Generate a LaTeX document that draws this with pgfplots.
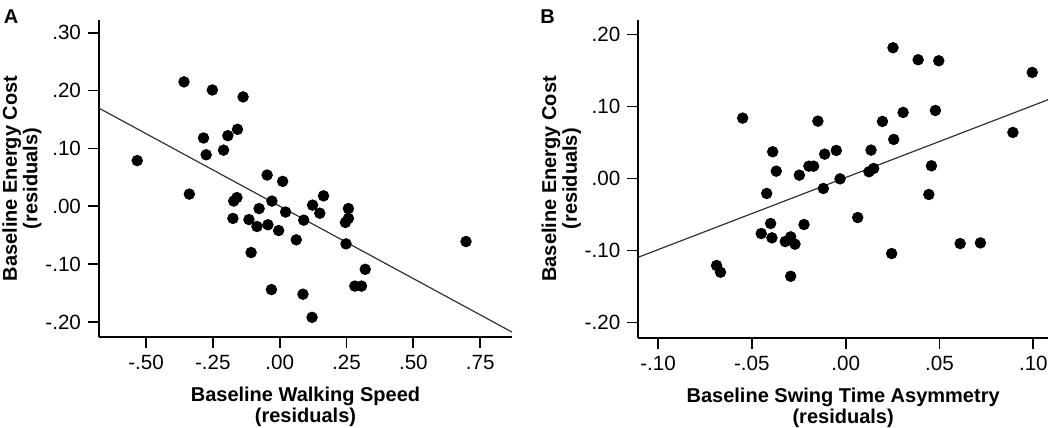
\documentclass[border=0pt]{standalone}
\usepackage{fontspec}
\setmainfont{Liberation Sans}
\usepackage{pgfplots}
\usepackage{pgfplotstable}
\pgfplotsset{compat=1.18}
\pgfplotstableread{
x y
-0.358 0.215
-0.252 0.201
-0.137 0.189
-0.158 0.133
-0.194 0.122
-0.285 0.118
-0.210 0.097
-0.275 0.089
-0.533 0.079
-0.047 0.054
0.011 0.043
-0.338 0.021
0.164 0.018
-0.160 0.015
-0.172 0.009
-0.029 0.009
0.123 0.002
0.150 -0.012
-0.077 -0.004
0.257 -0.004
0.022 -0.010
-0.175 -0.021
-0.115 -0.023
0.090 -0.024
0.257 -0.021
0.246 -0.028
-0.085 -0.035
-0.044 -0.032
-0.004 -0.042
0.062 -0.058
0.248 -0.065
-0.107 -0.080
0.697 -0.061
0.320 -0.109
0.281 -0.138
0.306 -0.138
-0.031 -0.144
0.087 -0.152
0.121 -0.192
}\dataA
\pgfplotstableread{
x y
0.0252 0.1815
0.0386 0.1648
0.0496 0.1634
0.0994 0.1472
-0.0549 0.0838
-0.0148 0.0796
0.0196 0.0792
0.0306 0.0917
0.0478 0.0944
0.0256 0.0542
0.0891 0.0639
-0.0389 0.0371
-0.0112 0.0338
-0.0050 0.0389
0.0135 0.0394
-0.0370 0.0102
-0.0247 0.0046
-0.0196 0.0171
-0.0171 0.0171
-0.0030 -0.0005
0.0124 0.0093
0.0149 0.0139
0.0457 0.0176
0.0443 -0.0222
-0.0421 -0.0208
-0.0119 -0.0139
0.0064 -0.0542
-0.0400 -0.0625
-0.0222 -0.0639
-0.0450 -0.0764
-0.0393 -0.0824
-0.0322 -0.0875
-0.0293 -0.0810
-0.0270 -0.0912
0.0610 -0.0903
0.0718 -0.0894
0.0245 -0.1042
-0.0688 -0.1208
-0.0667 -0.1301
-0.0293 -0.1357
}\dataB
\begin{document}
\begin{tikzpicture}
\useasboundingbox (0pt,0pt) rectangle (525pt,214pt);
\pgfplotsset{
 myax/.style={
  scale only axis,
  axis lines*=left,
  axis line style={line width=1pt,black},
  tick align=outside,
  major tick length=5.5pt,
  tick style={line width=0.9pt,black},
  ticklabel style={font=\fontsize{10.3}{11}\selectfont},
  label style={font=\bfseries\fontsize{10}{10.3}\selectfont, align=center},
  xlabel style={at={(rel axis cs:0.5,0)}, anchor=center, yshift=-35pt},
  ylabel style={at={(rel axis cs:0,0.5)}, anchor=center, rotate=0, yshift=38.5pt},
  clip=false,
 },
 dots/.style={only marks, mark=*, mark size=2.65pt, black, mark options={fill=black}},
 fit/.style={no marks, line width=0.6pt, black!80},
}
\node[font=\bfseries\fontsize{10}{12}\selectfont] at (5.5pt,205.75pt) {A};
\node[font=\bfseries\fontsize{10}{12}\selectfont] at (273.75pt,205.75pt) {B};
\begin{axis}[myax, at={(49.5pt,45.5pt)}, anchor=south west,
  width=206.5pt, height=158.5pt,
  xmin=-0.676, xmax=0.869, ymin=-0.226, ymax=0.322,
  xtick={-0.5,-0.25,0,0.25,0.5,0.75},
  xticklabels={-.50,-.25,.00,.25,.50,.75},
  ytick={-0.2,-0.1,0,0.1,0.2,0.3},
  yticklabels={-.20,-.10,.00,.10,.20,.30},
  xlabel={Baseline Walking Speed\\(residuals)},
  ylabel={Baseline Energy Cost\\(residuals)}]
\addplot[fit] coordinates {(-0.676,0.1696) (0.869,-0.2175)};
\addplot[dots] table[x=x,y=y] {\dataA};
\end{axis}
\begin{axis}[myax, at={(319.15pt,45.15pt)}, anchor=south west,
  width=204.85pt, height=158.85pt,
  xmin=-0.1105, xmax=0.1078, ymin=-0.221, ymax=0.22,
  xtick={-0.1,-0.05,0,0.05,0.1},
  xticklabels={-.10,-.05,.00,.05,.10},
  ytick={-0.2,-0.1,0,0.1,0.2},
  yticklabels={-.20,-.10,.00,.10,.20},
  xlabel={Baseline Swing Time Asymmetry\\(residuals)},
  ylabel={Baseline Energy Cost\\(residuals)}]
\addplot[fit] coordinates {(-0.1105,-0.1093) (0.1078,0.1093)};
\addplot[dots] table[x=x,y=y] {\dataB};
\end{axis}
\end{tikzpicture}
\end{document}
